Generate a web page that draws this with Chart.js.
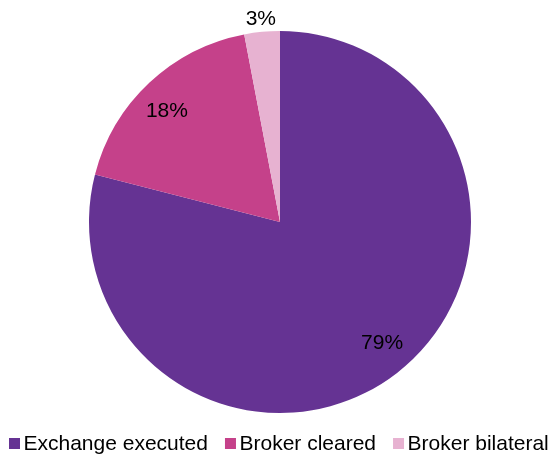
<!DOCTYPE html>
<html>
<head>
<meta charset="utf-8">
<script src="https://cdn.jsdelivr.net/npm/chart.js@4"></script>
<style>
html,body{margin:0;padding:0;background:#fff;}
#wrap{width:550px;height:456px;position:relative;}
</style>
</head>
<body>
<div id="wrap"><canvas id="c" width="550" height="456"></canvas></div>
<script>
const categories = ["Exchange executed", "Broker cleared", "Broker bilateral"];
const shares = [79, 18, 3];
const percentLabels = ["79%", "18%", "3%"];
const sliceColors = ["#653393", "#C5418A", "#E7B2D1"];

const FONT = "'Liberation Sans', Arial, sans-serif";

const pieLabels = {
  id: 'pieLabels',
  afterDatasetsDraw(chart) {
    const ctx = chart.ctx;
    const meta = chart.getDatasetMeta(0);
    ctx.save();
    ctx.font = "21px " + FONT;
    ctx.fillStyle = "#000";
    ctx.textAlign = "center";
    ctx.textBaseline = "middle";
    meta.data.forEach((arc, i) => {
      const p = arc.getProps(['x','y','startAngle','endAngle','outerRadius'], true);
      const span = p.endAngle - p.startAngle;
      const outside = span < 0.3;
      const mid = (p.startAngle + p.endAngle) / 2 - (outside ? 0 : 0.04);
      const r = outside ? p.outerRadius + 13 : p.outerRadius * 0.83;
      ctx.fillText(percentLabels[i], p.x + Math.cos(mid) * r, p.y + Math.sin(mid) * r);
    });
    ctx.restore();
  }
};

const customLegend = {
  id: 'customLegend',
  afterDraw(chart) {
    const ctx = chart.ctx;
    ctx.save();
    ctx.font = "21px " + FONT;
    ctx.textBaseline = "alphabetic";
    ctx.textAlign = "left";
    let x = 9;
    const boxTop = 438, box = 11, baseline = 450;
    categories.forEach((name, i) => {
      ctx.fillStyle = sliceColors[i];
      ctx.fillRect(x, boxTop, box, box);
      x += 14.5;
      ctx.fillStyle = "#000";
      ctx.fillText(name, x, baseline);
      x += ctx.measureText(name).width + 17;
    });
    ctx.restore();
  }
};

new Chart(document.getElementById('c'), {
  type: 'pie',
  data: {
    labels: categories,
    datasets: [{
      data: shares,
      backgroundColor: sliceColors,
      borderWidth: 0
    }]
  },
  options: {
    responsive: false,
    animation: false,
    layout: { padding: { left: 89, right: 79, top: 31, bottom: 43 } },
    plugins: {
      legend: { display: false },
      tooltip: { enabled: false }
    }
  },
  plugins: [pieLabels, customLegend]
});
</script>
</body>
</html>
